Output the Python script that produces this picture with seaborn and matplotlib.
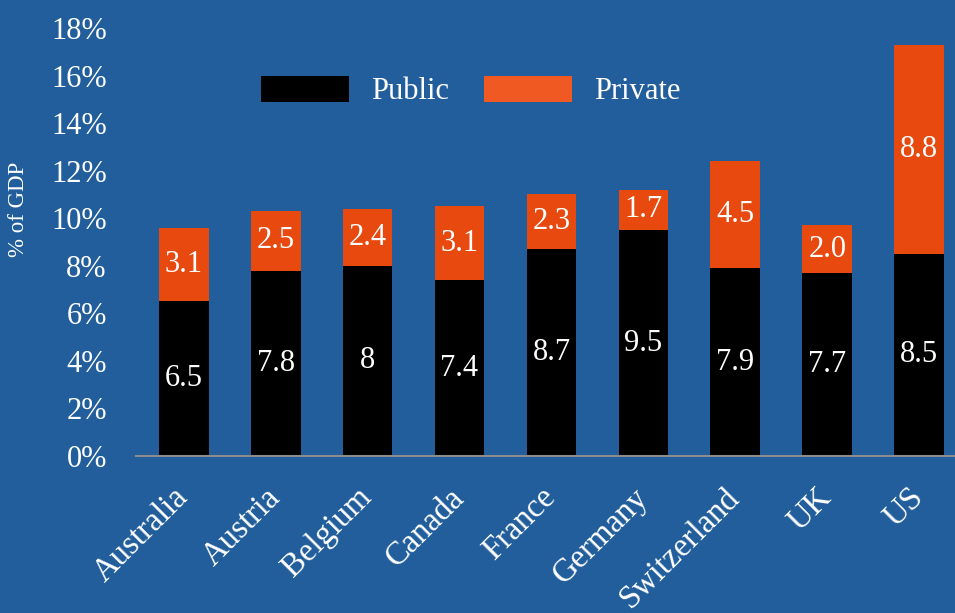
import matplotlib
matplotlib.use("Agg")
import matplotlib.pyplot as plt
import matplotlib.transforms as mtrans
import seaborn as sns
import pandas as pd
from matplotlib.patches import Patch

countries = ["Australia", "Austria", "Belgium", "Canada", "France", "Germany", "Switzerland", "UK", "US"]
public = [6.5, 7.8, 8.0, 7.4, 8.7, 9.5, 7.9, 7.7, 8.5]
private = [3.1, 2.5, 2.4, 3.1, 2.3, 1.7, 4.5, 2.0, 8.8]
public_labels = ["6.5", "7.8", "8", "7.4", "8.7", "9.5", "7.9", "7.7", "8.5"]
private_labels = ["3.1", "2.5", "2.4", "3.1", "2.3", "1.7", "4.5", "2.0", "8.8"]
yticks = [0, 2, 4, 6, 8, 10, 12, 14, 16, 18]

BG = "#215E9B"
ORANGE = "#E8490F"
LEG_ORANGE = "#F05A22"
FONT = "Liberation Serif"
FS = 22

sns.set_theme(style="white")
plt.rcParams["font.family"] = [FONT, "DejaVu Serif"]

df = pd.DataFrame({"country": countries, "public": public, "private": private})

fig = plt.figure(figsize=(9.55, 6.13), dpi=100, facecolor=BG)
ax = fig.add_axes([136 / 955, 1 - 456 / 613, 1 - 136 / 955, (456 - 28) / 613])
ax.set_facecolor(BG)

sns.barplot(data=df, x="country", y="public", color="black", saturation=1,
            width=0.54, ax=ax, linewidth=0)
sns.barplot(data=df, x="country", y="private", color=ORANGE, saturation=1,
            width=0.54, ax=ax, linewidth=0, bottom=df["public"])

ax.bar_label(ax.containers[0], labels=public_labels, label_type="center",
             color="white", fontsize=FS)
ax.bar_label(ax.containers[1], labels=private_labels, label_type="center",
             color="white", fontsize=FS)

ax.set_ylim(0, 18)
ax.set_xlim(-0.52, 8.39)
ax.set_yticks(yticks)
ax.set_yticklabels([f"{v}%" for v in yticks], color="white", fontsize=FS)
ax.set_xticks(range(len(countries)))
ax.set_xticklabels(countries, rotation=45, ha="right", rotation_mode="anchor",
                   color="white", fontsize=23.5)
ax.tick_params(axis="both", length=0)
ax.tick_params(axis="y", pad=21)
ax.tick_params(axis="x", pad=8)
offset = mtrans.ScaledTranslation(-11 / 100, -15 / 100, fig.dpi_scale_trans)
for lab in ax.get_xticklabels():
    lab.set_transform(lab.get_transform() + offset)
ax.set_xlabel("")
ax.set_ylabel("")
for s in ["top", "right", "left"]:
    ax.spines[s].set_visible(False)
ax.spines["bottom"].set_color("#8C8C8C")
ax.spines["bottom"].set_linewidth(1.5)

fig.text(19 / 955, 1 - 209 / 613, "% of GDP", rotation=90, color="white",
         fontsize=16.5, ha="center", va="center")

handles = [Patch(facecolor="black", edgecolor="none", label="Public"),
           Patch(facecolor=LEG_ORANGE, edgecolor="none", label="Private")]
leg = fig.legend(handles=handles, loc="center", bbox_to_anchor=(471 / 955, 1 - 91 / 613),
                 ncol=2, frameon=False, fontsize=FS, handlelength=2.88, handleheight=0.95,
                 handletextpad=0.72, columnspacing=1.14, labelcolor="white",
                 borderpad=0, borderaxespad=0)

fig.savefig("out.png", dpi=100, facecolor=BG)
